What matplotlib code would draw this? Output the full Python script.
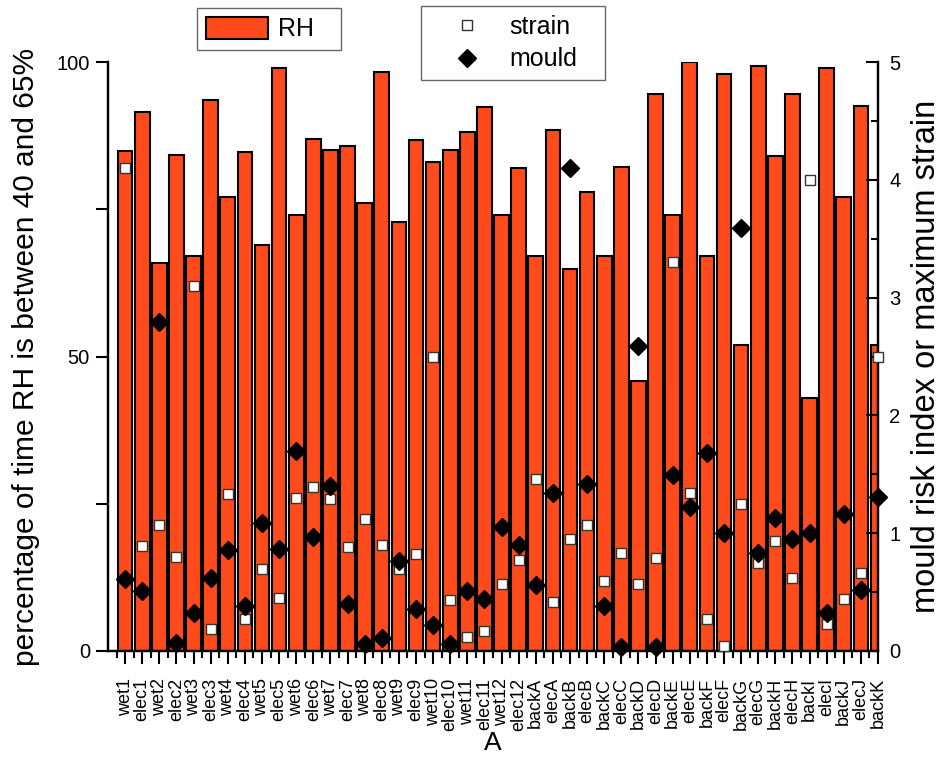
import matplotlib
matplotlib.use("Agg")
import matplotlib.pyplot as plt
from matplotlib.lines import Line2D
from matplotlib.patches import Patch
from matplotlib.ticker import MultipleLocator, FixedLocator

plt.rcParams['font.family'] = ['Liberation Sans', 'DejaVu Sans']

categories = ["wet1", "elec1", "wet2", "elec2", "wet3", "elec3", "wet4", "elec4",
              "wet5", "elec5", "wet6", "elec6", "wet7", "elec7", "wet8", "elec8",
              "wet9", "elec9", "wet10", "elec10", "wet11", "elec11", "wet12", "elec12",
              "backA", "elecA", "backB", "elecB", "backC", "elecC", "backD", "elecD",
              "backE", "elecE", "backF", "elecF", "backG", "elecG", "backH", "elecH",
              "backI", "elecI", "backJ", "elecJ", "backK"]

rh = [84.9, 91.5, 65.9, 84.2, 67.0, 93.5, 77.0, 84.7,
      69.0, 99.0, 74.1, 87.0, 85.0, 85.8, 76.0, 98.3,
      72.9, 86.8, 83.0, 85.1, 88.1, 92.3, 74.0, 82.0,
      67.0, 88.5, 64.9, 77.9, 67.0, 82.1, 45.8, 94.5,
      74.1, 100.0, 67.0, 98.0, 51.9, 99.3, 84.1, 94.6,
      42.9, 99.0, 77.0, 92.5, 51.9]

strain = [4.10, 0.89, 1.07, 0.80, 3.10, 0.19, 1.33, 0.27,
          0.70, 0.45, 1.30, 1.39, 1.29, 0.88, 1.12, 0.90,
          0.70, 0.82, 2.50, 0.43, 0.12, 0.17, 0.57, 0.77,
          1.46, 0.42, 0.95, 1.07, 0.59, 0.83, 0.57, 0.79,
          3.30, 1.34, 0.27, 0.04, 1.25, 0.75, 0.93, 0.62,
          4.00, 0.23, 0.44, 0.66, 2.50]

mould = [0.61, 0.51, 2.79, 0.07, 0.32, 0.62, 0.86, 0.38,
         1.09, 0.87, 1.70, 0.97, 1.40, 0.40, 0.06, 0.11,
         0.76, 0.36, 0.22, 0.06, 0.51, 0.44, 1.05, 0.90,
         0.56, 1.34, 4.10, 1.42, 0.38, 0.03, 2.59, 0.03,
         1.49, 1.22, 1.68, 1.00, 3.59, 0.83, 1.13, 0.95,
         1.00, 0.32, 1.16, 0.52, 1.31]

bar_color = '#FF4B1B'

fig = plt.figure(figsize=(9.46, 7.62), dpi=100)
ax = fig.add_axes([108/946, 1-651/762, (878-108)/946, (651-62)/762])
x = list(range(len(categories)))
ax.bar(x, rh, width=0.86, color=bar_color, edgecolor='black', linewidth=1.5, zorder=2)
ax.set_xlim(-1, len(categories) - 1)
ax.set_ylim(0, 100)

ax2 = ax.twinx()
ax2.set_ylim(0, 5)
ax2.plot(x, strain, linestyle='none', marker='s', markersize=7.5, markerfacecolor='white',
         markeredgecolor='#333333', markeredgewidth=1.0, zorder=4, clip_on=False)
ax2.plot(x, mould, linestyle='none', marker='D', markersize=9, markerfacecolor='black',
         markeredgecolor='black', zorder=5, clip_on=False)

for a in (ax, ax2):
    a.spines['top'].set_visible(False)
    for s in ('left', 'right', 'bottom'):
        a.spines[s].set_linewidth(1.6)

ax.set_xticks(x)
ax.set_xticklabels(categories, rotation=90, fontsize=13)
ax.xaxis.set_minor_locator(FixedLocator([i - 0.5 for i in range(len(categories))]))
ax.tick_params(axis='x', which='major', direction='out', length=9, width=1.5, pad=10.5)
ax.tick_params(axis='x', which='minor', direction='out', length=5, width=1.5)

ax.set_yticks([0, 50, 100])
ax.yaxis.set_minor_locator(FixedLocator([25, 75]))
ax.tick_params(axis='y', which='both', direction='out', length=9, width=1.5, labelsize=14.5, pad=4)

ax2.set_yticks([0, 1, 2, 3, 4, 5])
ax2.yaxis.set_minor_locator(MultipleLocator(0.5))
ax2.tick_params(axis='y', which='major', direction='in', length=9, width=1.5, labelsize=14.5, pad=8)
ax2.tick_params(axis='y', which='minor', direction='in', length=5, width=1.5)

ax.set_xlabel('A', fontsize=19, labelpad=0)
ax.set_ylabel('percentage of time RH is between 40 and 65%', fontsize=21.5, labelpad=12)
ax2.set_ylabel('mould risk index or maximum strain', fontsize=23.5, labelpad=8)

h1 = [Patch(facecolor=bar_color, edgecolor='black', linewidth=1.5)]
leg1 = fig.legend(h1, ['RH'], loc='upper left',
                  bbox_to_anchor=(197/946, 1-49/762, 144/946, 41/762), mode='expand',
                  borderaxespad=0, fancybox=False, edgecolor='#444444', fontsize=18,
                  handlelength=2.5, handleheight=1.0, borderpad=0.35, handletextpad=0.4)
leg1.get_frame().set_linewidth(1.0)

h2 = [Line2D([], [], linestyle='none', marker='s', markersize=7, markerfacecolor='white',
             markeredgecolor='#333333'),
      Line2D([], [], linestyle='none', marker='D', markersize=9, markerfacecolor='black',
             markeredgecolor='black')]
leg2 = fig.legend(h2, ['strain', 'mould'], loc='upper left',
                  bbox_to_anchor=(421/946, 1-80/762, 184/946, 74/762), mode='expand',
                  borderaxespad=0, fancybox=False, edgecolor='#444444', fontsize=18,
                  handlelength=3.0, borderpad=0.35, handletextpad=0.2, labelspacing=0.35)
leg2.get_frame().set_linewidth(1.0)

fig.savefig('out.png', dpi=100)
